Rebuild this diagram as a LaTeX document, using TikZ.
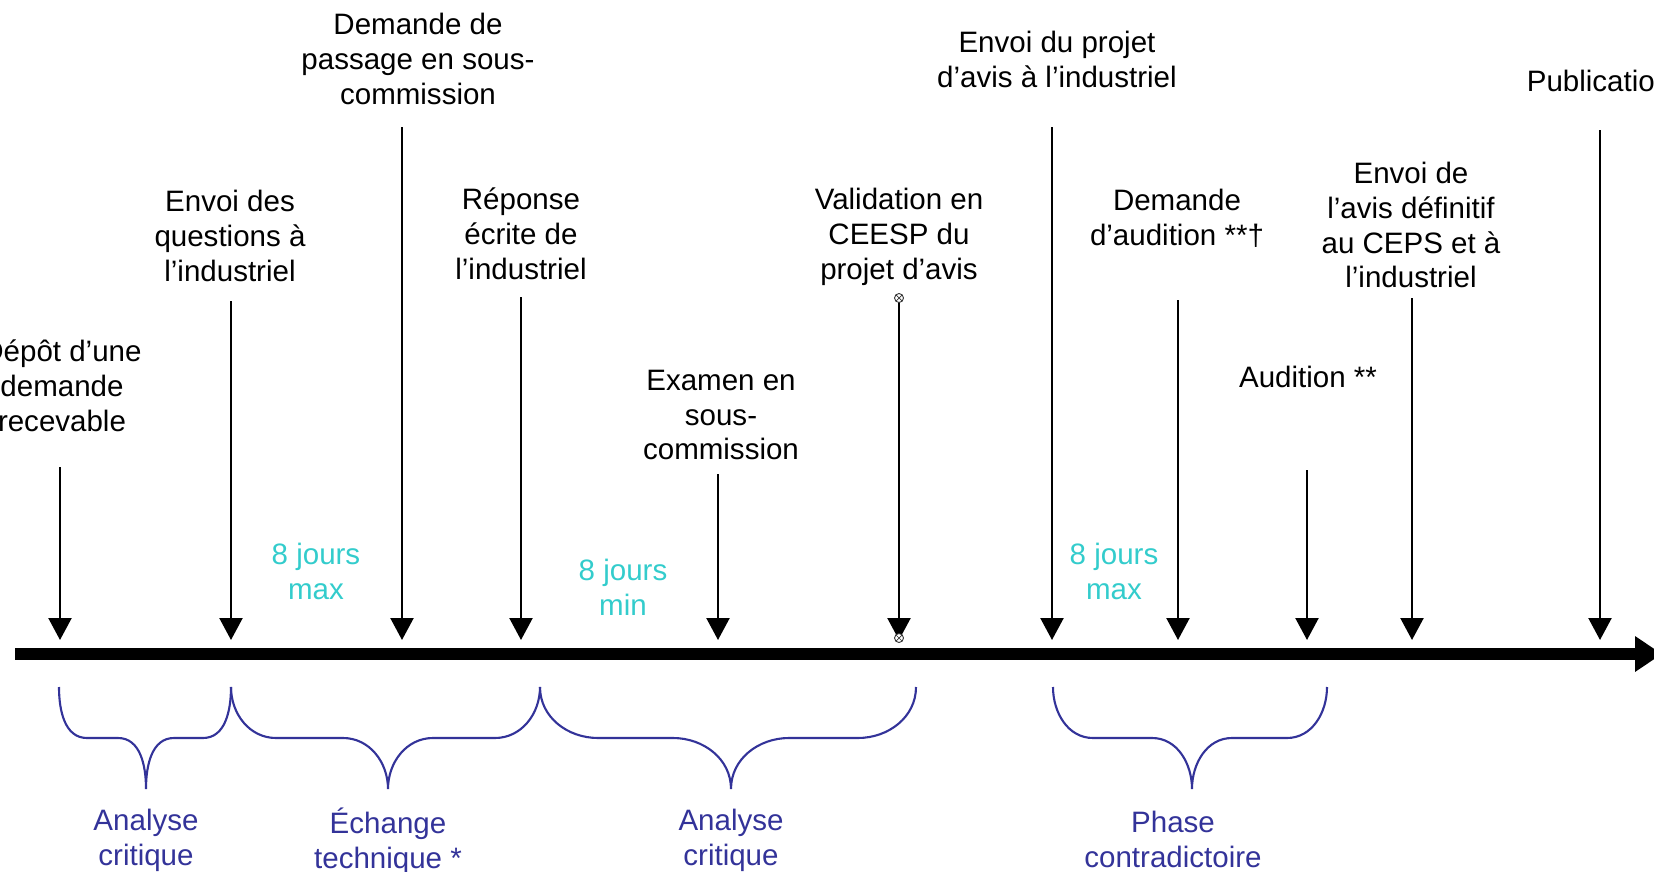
\documentclass[tikz,border=0pt]{standalone}
\usepackage{fontspec}
\setmainfont{Liberation Sans}
\usetikzlibrary{arrows.meta}
\definecolor{duree}{RGB}{51,204,204}
\definecolor{phase}{RGB}{51,51,153}

\begin{document}
\begin{tikzpicture}[x=0.02cm, y=-0.02cm,
  every node/.style={font=\fontsize{16.8}{19.9}\selectfont, align=center, inner sep=0pt},
  axeline/.style={line width=0.24cm, -{Triangle[width=0.68cm,length=0.54cm]}},
  evt/.style={line width=1.3pt, -{Triangle[width=0.46cm,length=0.44cm]}},
  delai/.style={text=duree},
  accolade/.style={draw=phase, line width=1.2pt},
  phaselbl/.style={text=phase},
  repere/.style={circle, draw=black!80, line width=0.5pt, fill=white, minimum size=0.18cm,
    path picture={\draw[line width=0.4pt] (path picture bounding box.south west) -- (path picture bounding box.north east)
      (path picture bounding box.north west) -- (path picture bounding box.south east);}}]
  \useasboundingbox (0,0) rectangle (1654,872);

  \coordinate (debut) at (15,654);
  \coordinate (fin) at (1662,654);
  \coordinate (axe) at (0,640);
  \draw[axeline] (debut) -- (fin);

  \coordinate (depot) at (60,467);
  \coordinate (questions) at (231,301);
  \coordinate (passage) at (402,127);
  \coordinate (reponse) at (521,297);
  \coordinate (examen) at (718,474);
  \coordinate (ceesp) at (899,298);
  \coordinate (projet) at (1052,127);
  \coordinate (demaud) at (1178,300);
  \coordinate (audition) at (1307,470);
  \coordinate (definitif) at (1412,298);
  \coordinate (publi) at (1600,130);

  \draw[evt] (depot) -- (depot |- axe);
  \draw[evt] (questions) -- (questions |- axe);
  \draw[evt] (passage) -- (passage |- axe);
  \draw[evt] (reponse) -- (reponse |- axe);
  \draw[evt] (examen) -- (examen |- axe);
  \draw[evt] (ceesp) -- (ceesp |- axe);
  \draw[evt] (projet) -- (projet |- axe);
  \draw[evt] (demaud) -- (demaud |- axe);
  \draw[evt] (audition) -- (audition |- axe);
  \draw[evt] (definitif) -- (definitif |- axe);
  \draw[evt] (publi) -- (publi |- axe);
  \node[repere] (mhaut) at (ceesp) {};
  \node[repere] (mbas) at (899,638) {};

  \node (ldepot) at (62,386) {Dépôt d’une\\demande\\recevable};
  \node (lquestions) at (230,236) {Envoi des\\questions à\\l’industriel};
  \node (lpassage) at (418,59) {Demande de\\passage en sous-\\commission};
  \node (lreponse) at (521,234) {Réponse\\écrite de\\l’industriel};
  \node (lexamen) at (721,415) {Examen en\\sous-\\commission};
  \node (lceesp) at (899,237) {Validation en\\CEESP du\\projet d’avis};
  \node (lprojet) at (1057,59) {Envoi du projet\\d’avis à l’industriel};
  \node (ldemaud) at (1177,218) {Demande\\d’audition **†};
  \node (laudition) at (1308,377) {Audition **};
  \node (ldefinitif) at (1411,225) {Envoi de\\l’avis définitif\\au CEPS et à\\l’industriel};
  \node (lpubli) at (1599,81) {Publication};

  \node[delai] (d1) at (316,571) {8 jours\\max};
  \node[delai] (d2) at (623,587) {8 jours\\min};
  \node[delai] (d3) at (1114,571) {8 jours\\max};

  \draw[accolade] (59,687) to[out=-90,in=180] (87,738) -- (118,738) to[out=0,in=90] (146,789)
    to[out=90,in=180] (174,738) -- (203,738) to[out=0,in=-90] (231,687);
  \draw[accolade] (231,687) to[out=-90,in=180] (276,738) -- (343,738) to[out=0,in=90] (388,789)
    to[out=90,in=180] (433,738) -- (495,738) to[out=0,in=-90] (540,687);
  \draw[accolade] (540,687) to[out=-90,in=180] (598,738) -- (673,738) to[out=0,in=90] (731,789)
    to[out=90,in=180] (789,738) -- (858,738) to[out=0,in=-90] (916,687);
  \draw[accolade] (1053,687) to[out=-90,in=180] (1093,738) -- (1152,738) to[out=0,in=90] (1192,789)
    to[out=90,in=180] (1232,738) -- (1287,738) to[out=0,in=-90] (1327,687);

  \node[phaselbl] (p1) at (146,840) {Analyse\\critique};
  \node[phaselbl] (p2) at (388,841) {Échange\\technique *};
  \node[phaselbl] (p3) at (731,840) {Analyse\\critique};
  \node[phaselbl] (p4) at (1173,839) {Phase\\contradictoire};
\end{tikzpicture}
\end{document}
